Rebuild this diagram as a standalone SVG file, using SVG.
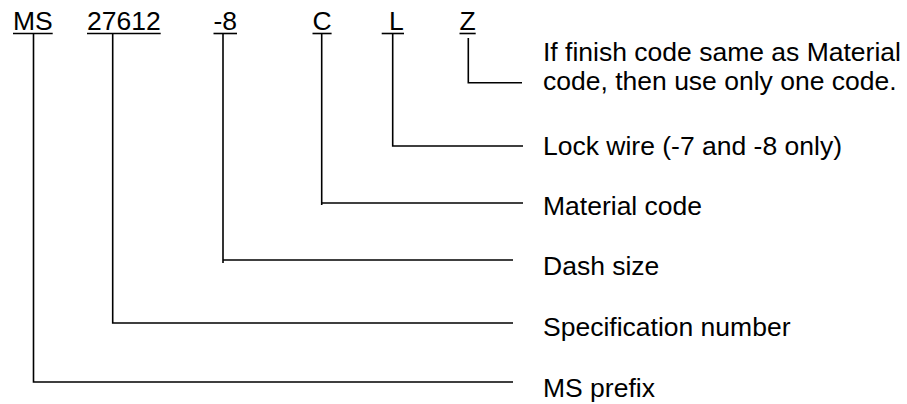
<svg xmlns="http://www.w3.org/2000/svg" width="907" height="404" viewBox="0 0 907 404">
<style>
text{font-family:"Liberation Sans",Arial,sans-serif;font-size:26.5px;fill:#000}
.ln{stroke:#000;stroke-width:1.6;fill:none}
</style>
<rect width="907" height="404" fill="#fff"/>
<g id="part-codes">
<g id="code-ms"><text x="13" y="30">MS</text><line class="ln" x1="13" y1="33.5" x2="52.7" y2="33.5"/></g>
<g id="code-27612"><text x="87" y="30">27612</text><line class="ln" x1="87" y1="33.5" x2="160.7" y2="33.5"/></g>
<g id="code-dash"><text x="213.5" y="30">-8</text><line class="ln" x1="213.5" y1="33.5" x2="237" y2="33.5"/></g>
<g id="code-c"><text x="312.5" y="30">C</text><line class="ln" x1="312.5" y1="33.5" x2="331.6" y2="33.5"/></g>
<g id="code-l"><text x="389" y="30">L</text><line class="ln" x1="381.7" y1="33.5" x2="404" y2="33.5"/></g>
<g id="code-z"><text x="459.5" y="30">Z</text><line class="ln" x1="459.5" y1="33.5" x2="475.7" y2="33.5"/></g>
</g>
<g id="labels">
<g id="label-z"><text x="543" y="61">If finish code same as Material</text><text x="543" y="90">code, then use only one code.</text></g>
<g id="label-l"><text x="543" y="155">Lock wire (-7 and -8 only)</text></g>
<g id="label-c"><text x="543" y="215">Material code</text></g>
<g id="label-dash"><text x="543" y="275">Dash size</text></g>
<g id="label-spec"><text x="543" y="336">Specification number</text></g>
<g id="label-ms"><text x="543" y="397">MS prefix</text></g>
</g>
<g id="connectors">
<polyline class="ln" points="33.5,33 33.5,382 513,382"/>
<polyline class="ln" points="112.7,33 112.7,323 513,323"/>
<polyline class="ln" points="223,33 223,263"/>
<line class="ln" x1="223" y1="260" x2="513" y2="260"/>
<polyline class="ln" points="321.7,33 321.7,205"/>
<line class="ln" x1="321.7" y1="203" x2="523" y2="203"/>
<polyline class="ln" points="392.7,33 392.7,146 523,146"/>
<polyline class="ln" points="468.3,38 468.3,82.7 522,82.7"/>
</g>
</svg>
